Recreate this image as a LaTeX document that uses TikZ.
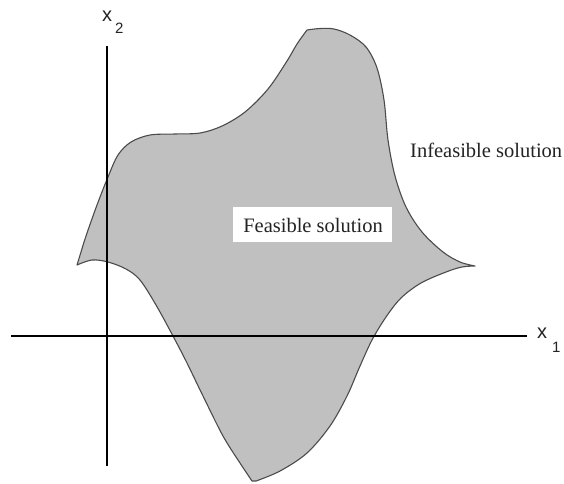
\documentclass[tikz,border=0pt]{standalone}
\usepackage{fontspec}
\setmainfont{Liberation Serif}
\newfontfamily\axfont{Liberation Sans}
\definecolor{regiongray}{RGB}{192,192,192}
\definecolor{edgegray}{RGB}{75,75,75}
\definecolor{inkgray}{RGB}{35,35,35}
\begin{document}
\begin{tikzpicture}[x=1pt,y=-1pt,
  axisline/.style={line width=2.7pt,black},
  region/.style={fill=regiongray,draw=edgegray,line width=1.1pt,line join=round},
  solnlabel/.style={font=\fontsize{20.5}{22}\selectfont,text=inkgray,inner sep=0pt},
  axislabel/.style={font=\axfont\fontsize{20}{21}\selectfont,text=inkgray,inner sep=0pt},
  whitebox/.style={fill=white,minimum width=159pt,minimum height=35pt,inner sep=0pt}]
\useasboundingbox (0,0) rectangle (564,483);
% feasible region
\path[region]
  plot[smooth,tension=0.55] coordinates {(77,265) (81,252) (86,236) (97,205) (108,177) (118,155) (131,142) (150,135) (175,134) (200,133) (222,126) (245,112) (268,89) (287,61) (297,44) (307,30)}
  -- plot[smooth,tension=0.55] coordinates {(307,30) (320,28.5) (334,29) (350,35) (366,47) (377,68) (384,100) (388,140) (395,176) (406,207) (422,232) (443,252) (460,262) (475,266)}
  -- plot[smooth,tension=0.55] coordinates {(475,266) (462,267) (446,272) (421,283) (401,298) (386,317) (372,340) (360,366) (347,396) (330,426) (307,453) (280,471) (256,481)}
  -- plot[smooth,tension=0.55] coordinates {(252,481) (240,463) (223,436) (203,396) (187,363) (173,336) (156,305) (140,280) (126,269) (108,262) (92,260) (77,265)}
  -- cycle;
% axes
\coordinate (ytop) at (107,46);
\coordinate (ybot) at (107,466);
\coordinate (xleft) at (11,336);
\coordinate (xright) at (527,336);
\draw[axisline] (ybot) -- (ytop);
\draw[axisline] (xleft) -- (xright);
% axis labels
\node[axislabel,anchor=base west] (xtwo) at (102,21) {x\hspace{3pt}\raisebox{-12pt}{\fontsize{15}{15}\selectfont 2}};
\node[axislabel,anchor=base west] (xone) at (537,338) {x\hspace{5pt}\raisebox{-14pt}{\fontsize{15}{15}\selectfont 1}};
% texts
\node[whitebox] (feasbox) at (312.5,224.5) {};
\node[solnlabel,anchor=base] (feas) at (313,232) {Feasible solution};
\node[solnlabel,anchor=base west] (infeas) at (410,157) {Infeasible solution};
\end{tikzpicture}
\end{document}
